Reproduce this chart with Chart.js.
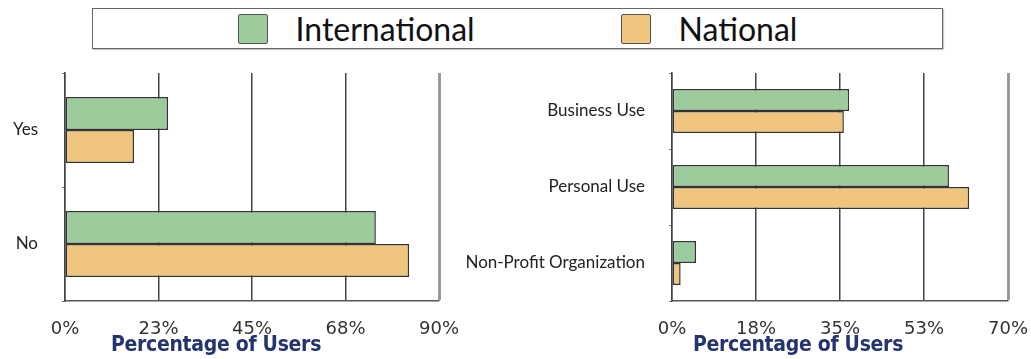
<!DOCTYPE html>
<html>
<head>
<meta charset="utf-8">
<script src="https://cdn.jsdelivr.net/npm/chart.js@4.4.1/dist/chart.umd.min.js"></script>
<style>
    body { margin: 0; background: #fff; }
    #page { position: relative; width: 1031px; height: 359px; overflow: hidden; }
    #legend {
        position: absolute; left: 92px; top: 8px; width: 849px; height: 39px;
        border: 1.5px solid #666; box-shadow: 1px 1px 1px #c8c8c8;
        display: flex; align-items: center; justify-content: center;
        font-family: Lato, "Noto Sans", sans-serif; font-size: 32px; color: #111;
    }
    .legend-item { display: flex; align-items: center; margin: 0 73px; }
    .legend-box {
        width: 28px; height: 28px; border: 1.5px solid #555; border-radius: 2px;
        margin-right: 28px;
    }
    canvas { position: absolute; top: 60px; }
    #choiceChart { left: 0; }
    #useChart { left: 462px; }
</style>
</head>
<body>
<div id="page">
    <div id="legend"></div>
    <canvas id="choiceChart" width="462" height="299"></canvas>
    <canvas id="useChart" width="569" height="299"></canvas>
</div>
<script>
// Series names and colours
const seriesNames = ['International', 'National'];
const seriesColors = ['#9ccb9c', '#f0c67e'];

// Left panel: yes / no
const choiceLabels = ['Yes', 'No'];
const choiceInternational = [24.8, 74.8];
const choiceNational = [16.6, 82.8];
const choiceTicks = ['0%', '23%', '45%', '68%', '90%'];
const choiceMax = 90;

// Right panel: kind of use
const useLabels = ['Business Use', 'Personal Use', 'Non-Profit Organization'];
const useInternational = [36.9, 57.7, 5.0];
const useNational = [35.8, 61.9, 1.8];
const useTicks = ['0%', '18%', '35%', '53%', '70%'];
const useMax = 70;

const axisTitle = 'Percentage of Users';

// draws the x axis caption, shifted off the plot centre
const captionPlugin = {
    id: 'caption',
    afterDraw(chart, args, opts) {
        const { ctx, chartArea } = chart;
        ctx.save();
        ctx.font = 'bold 21px "DejaVu Sans Condensed", "DejaVu Sans", sans-serif';
        ctx.fillStyle = '#24346e';
        ctx.letterSpacing = '-0.3px';
        ctx.textAlign = 'center';
        ctx.textBaseline = 'alphabetic';
        ctx.fillText(opts.text, (chartArea.left + chartArea.right) / 2 + opts.shift, chartArea.bottom + 50);
        ctx.restore();
    }
};

function makeChart(id, labels, intl, natl, ticks, max, yWidth, padRight, shift) {
    const ctx = document.getElementById(id).getContext('2d');
    return new Chart(ctx, {
        type: 'bar',
        data: {
            labels: labels,
            datasets: [intl, natl].map((values, i) => ({
                label: seriesNames[i],
                data: values,
                backgroundColor: seriesColors[i],
                borderColor: '#333',
                borderWidth: 1.5,
                borderSkipped: false,
                categoryPercentage: 0.58,
                barPercentage: 1
            }))
        },
        options: {
            indexAxis: 'y',
            responsive: false,
            animation: false,
            layout: { padding: { top: 13, right: padRight, left: 0, bottom: 0 } },
            plugins: {
                legend: { display: false },
                tooltip: { enabled: false },
                caption: { text: axisTitle, shift: shift }
            },
            scales: {
                x: {
                    min: 0,
                    max: max,
                    afterBuildTicks: (scale) => {
                        scale.ticks = ticks.map((t, i) => ({ value: max * i / (ticks.length - 1) }));
                    },
                    afterFit: (scale) => {
                        scale.height = 58;
                        scale.paddingLeft = 0;
                        scale.paddingRight = 0;
                    },
                    grid: {
                        drawTicks: false,
                        color: (c) => c.index === ticks.length - 1 ? '#9a9a9a' : '#444',
                        lineWidth: (c) => c.index === ticks.length - 1 ? 3 : 1.5
                    },
                    border: { color: '#555', width: 1.5 },
                    ticks: {
                        padding: 18,
                        color: '#333',
                        font: { family: '"DejaVu Sans"', size: 18 },
                        callback: (v, i) => ticks[i]
                    }
                },
                y: {
                    afterFit: (scale) => {
                        scale.width = yWidth;
                        scale.paddingTop = 0;
                        scale.paddingBottom = 0;
                    },
                    grid: { drawOnChartArea: false, tickLength: 3, color: '#777' },
                    border: { color: '#444', width: 1.5 },
                    ticks: {
                        padding: 24,
                        color: '#222',
                        font: { family: 'Lato, "Noto Sans", sans-serif', size: 17 }
                    }
                }
            }
        },
        plugins: [captionPlugin]
    });
}

const choiceChart = makeChart('choiceChart', choiceLabels, choiceInternational, choiceNational,
    choiceTicks, choiceMax, 65, 23, -36);
const useChart = makeChart('useChart', useLabels, useInternational, useNational,
    useTicks, useMax, 210, 23, -42);

// shared legend built from the first chart's datasets
const legend = document.getElementById('legend');
legend.innerHTML = choiceChart.data.datasets.map(ds => `
    <div class="legend-item">
        <div class="legend-box" style="background:${ds.backgroundColor}"></div>
        <span>${ds.label}</span>
    </div>
`).join('');
</script>
</body>
</html>
